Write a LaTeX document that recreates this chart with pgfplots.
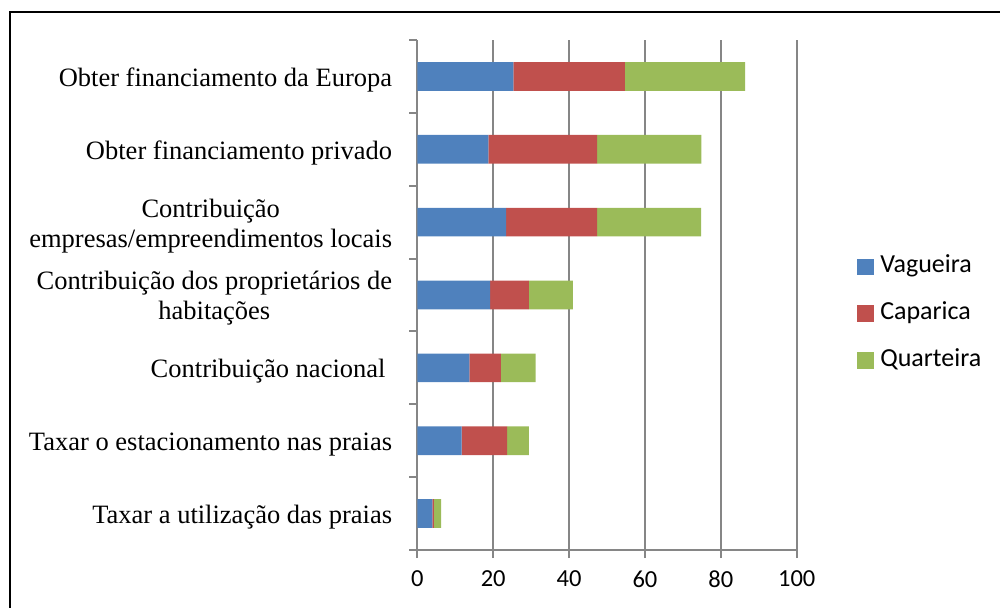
\documentclass[border=0pt]{standalone}
\usepackage{fontspec}
\setmainfont{Liberation Serif}
\newfontfamily\carlito{Carlito}
\usepackage{pgfplots}
\pgfplotsset{compat=1.18}
\definecolor{cV}{HTML}{4F81BD}
\definecolor{cC}{HTML}{C0504D}
\definecolor{cQ}{HTML}{9BBB59}
\definecolor{gridc}{HTML}{868686}
\begin{document}
\begin{tikzpicture}[x=1pt,y=1pt]
\useasboundingbox (0,0) rectangle (1000,607);
\draw[line width=1.8pt] (10,-2) -- (10,595.3) -- (1002,595.3);
\begin{axis}[
  at={(417.3pt,57pt)}, anchor=south west,
  scale only axis, width=379.4pt, height=510pt,
  xmin=0, xmax=100, ymin=0.5, ymax=7.5,
  xbar stacked, bar width=28.7pt,
  axis x line*=bottom, axis y line*=left,
  axis line style={gridc, line width=1.9pt},
  xtick={0,20,...,100},
  xmajorgrids, grid style={gridc, line width=1.9pt},
  ytick={0.5,1.5,...,7.5}, yticklabels={},
  extra y ticks={1,2,3,4,5,6,7},
  extra y tick labels={
    {Taxar a utilização das praias},
    {Taxar o estacionamento nas praias},
    {Contribuição nacional\hspace*{0.25em}},
    {Contribuição dos proprietários de\\habitações},
    {Contribuição\\empresas/empreendimentos locais},
    {Obter financiamento privado},
    {Obter financiamento da Europa}},
  extra y tick style={tick style={draw=none}},
  tick align=outside, major tick length=8pt,
  tick style={gridc, line width=1.9pt},
  /pgf/number format/assume math mode=true,
  xticklabel style={font=\carlito\fontsize{24.5}{28}\selectfont, yshift=-9pt},
  yticklabel style={font=\fontsize{26.5}{30}\selectfont, align=center, inner sep=0pt, xshift=-17pt, yshift=-3.5pt},
  legend style={at={(1.158,0.580)}, anchor=north west, inner sep=0pt, draw=none, fill=none,
    row sep=21.9pt, column sep=6.7pt,
    font=\carlito\fontsize{26}{30}\selectfont,
    nodes={inner sep=0pt, text height=18.5pt, text depth=6.5pt}},
  legend image code/.code={\fill[#1] (0pt,-8.35pt) rectangle (16.7pt,8.35pt);},
  legend cell align=left,
]
\addplot[fill=cV, draw=none] coordinates {(25.3,7) (18.7,6) (23.4,5) (19.2,4) (13.7,3) (11.7,2) (4.0,1)};
\addplot[fill=cC, draw=none] coordinates {(29.4,7) (28.7,6) (24.0,5) (10.2,4) (8.3,3) (12.0,2) (0.4,1)};
\addplot[fill=cQ, draw=none] coordinates {(31.7,7) (27.5,6) (27.4,5) (11.6,4) (9.2,3) (5.7,2) (1.9,1)};
\legend{Vagueira, Caparica, Quarteira}
\end{axis}
\end{tikzpicture}
\end{document}
